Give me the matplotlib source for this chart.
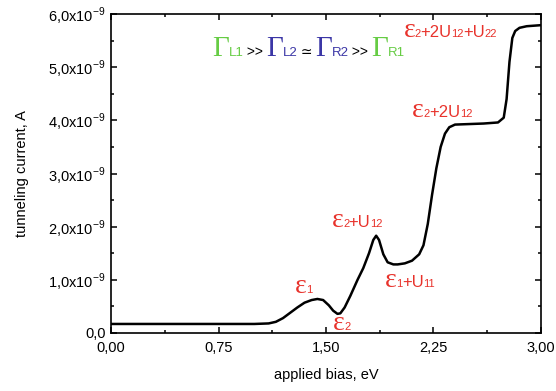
import numpy as np
import matplotlib
matplotlib.use('Agg')
import matplotlib.pyplot as plt
from matplotlib import transforms
from matplotlib.ticker import MultipleLocator, FuncFormatter

plt.rcParams['font.family'] = ['Liberation Sans', 'DejaVu Sans']
plt.rcParams['mathtext.fontset'] = 'custom'
plt.rcParams['mathtext.rm'] = 'Liberation Sans'

# curve (bias in eV, current in units of 1e-9 A)
bias = [0.0, 0.5, 1.0, 1.1, 1.15, 1.2, 1.25, 1.3, 1.35, 1.4, 1.44, 1.48, 1.52,
        1.55, 1.58, 1.6, 1.63, 1.67, 1.72, 1.76, 1.8, 1.83, 1.85, 1.87, 1.9,
        1.93, 1.97, 2.0, 2.05, 2.1, 2.15, 2.18, 2.21, 2.24, 2.27, 2.3, 2.33,
        2.36, 2.4, 2.5, 2.6, 2.7, 2.74, 2.76, 2.78, 2.8, 2.82, 2.85, 2.9, 3.0]
current = [0.17, 0.17, 0.17, 0.18, 0.21, 0.28, 0.38, 0.48, 0.57, 0.62, 0.64,
           0.62, 0.52, 0.42, 0.36, 0.37, 0.48, 0.70, 1.00, 1.22, 1.50, 1.75,
           1.83, 1.75, 1.48, 1.33, 1.29, 1.29, 1.31, 1.36, 1.48, 1.65, 2.05,
           2.60, 3.10, 3.50, 3.75, 3.87, 3.92, 3.93, 3.94, 3.96, 4.05, 4.40,
           5.10, 5.55, 5.68, 5.74, 5.77, 5.79]

red = '#e8322b'
green = '#66cc44'
blue = '#3b36a6'
serif = ['Liberation Serif', 'DejaVu Serif']
sans = ['Liberation Sans', 'DejaVu Sans']

# label position (bias, current) + pieces (text, size, family)
labels = [
    (1.284, 0.75, [('ε', 20, serif), ('1', 8, sans)]),
    (1.55, 0.06, [('ε', 20, serif), ('2', 8, sans)]),
    (1.54, 1.99, [('ε', 20, serif), ('2', 8, sans), ('+U', 12, sans), ('12', 8, sans)]),
    (1.91, 0.865, [('ε', 20, serif), ('1', 8, sans), ('+U', 12, sans), ('11', 8, sans)]),
    (2.1, 4.06, [('ε', 20, serif), ('2', 8, sans), ('+2U', 12, sans), ('12', 8, sans)]),
    (2.04, 5.57, [('ε', 20, serif), ('2', 8, sans), ('+2U', 12, sans), ('12', 8, sans),
                  ('+U', 12, sans), ('22', 8, sans)]),
]
gamma = [('Γ', 21, serif, green), ('L1', 9.5, sans, green), (' >> ', 10, sans, 'black'),
         ('Γ', 21, serif, blue), ('L2', 9.5, sans, blue), (' ≃ ', 10, sans, 'black'),
         ('Γ', 21, serif, blue), ('R2', 9.5, sans, blue), (' >> ', 10, sans, 'black'),
         ('Γ', 21, serif, green), ('R1', 9.5, sans, green)]

fig = plt.figure(figsize=(5.56, 3.91), dpi=100)
ax = fig.add_axes([111/556, 1-333/391, 430/556, 319/391])
ax.plot(bias, np.array(current)*1e-9, color='black', lw=1.8)
ax.set_xlim(0, 3)
ax.set_ylim(0, 6e-9)

ax.xaxis.set_major_locator(MultipleLocator(0.75))
ax.xaxis.set_minor_locator(MultipleLocator(0.375))
ax.yaxis.set_major_locator(MultipleLocator(1e-9))
ax.yaxis.set_minor_locator(MultipleLocator(0.5e-9))
ax.xaxis.set_major_formatter(FuncFormatter(lambda v, p: f'{v:.2f}'.replace('.', ',')))

def yfmt(v, p):
    n = round(v*1e9)
    if n == 0:
        return '0,0'
    return f'{n},0x10' + r'$^{\mathregular{-9}}$'
ax.yaxis.set_major_formatter(FuncFormatter(yfmt))

ax.tick_params(which='both', direction='in', top=True, right=True, width=1.1, labelsize=10.5)
ax.tick_params(which='major', length=4.5)
ax.tick_params(axis='x', which='major', pad=6)
ax.tick_params(axis='y', which='major', pad=4)
ax.tick_params(which='minor', length=2.5)
for s in ax.spines.values():
    s.set_linewidth(1.2)

ax.set_xlabel('applied bias, eV', fontsize=10.5, labelpad=9)
ax.set_ylabel('tunneling current, A', fontsize=10.5, labelpad=14)

renderer = fig.canvas.get_renderer()

def rich_text(x, y, pieces):
    tr = ax.transData
    for s, size, fam, col in pieces:
        t = ax.text(x, y, s, transform=tr, fontsize=size, family=fam, color=col,
                    va='baseline', ha='left')
        t.draw(renderer)
        ex = t.get_window_extent(renderer)
        tr = transforms.offset_copy(t.get_transform(), x=ex.width - 0.5, units='dots')

for x, y, pieces in labels:
    rich_text(x, y*1e-9, [(s, size, fam, red) for s, size, fam in pieces])
rich_text(0.705, 5.21e-9, gamma)

fig.savefig('out.png', dpi=100)
